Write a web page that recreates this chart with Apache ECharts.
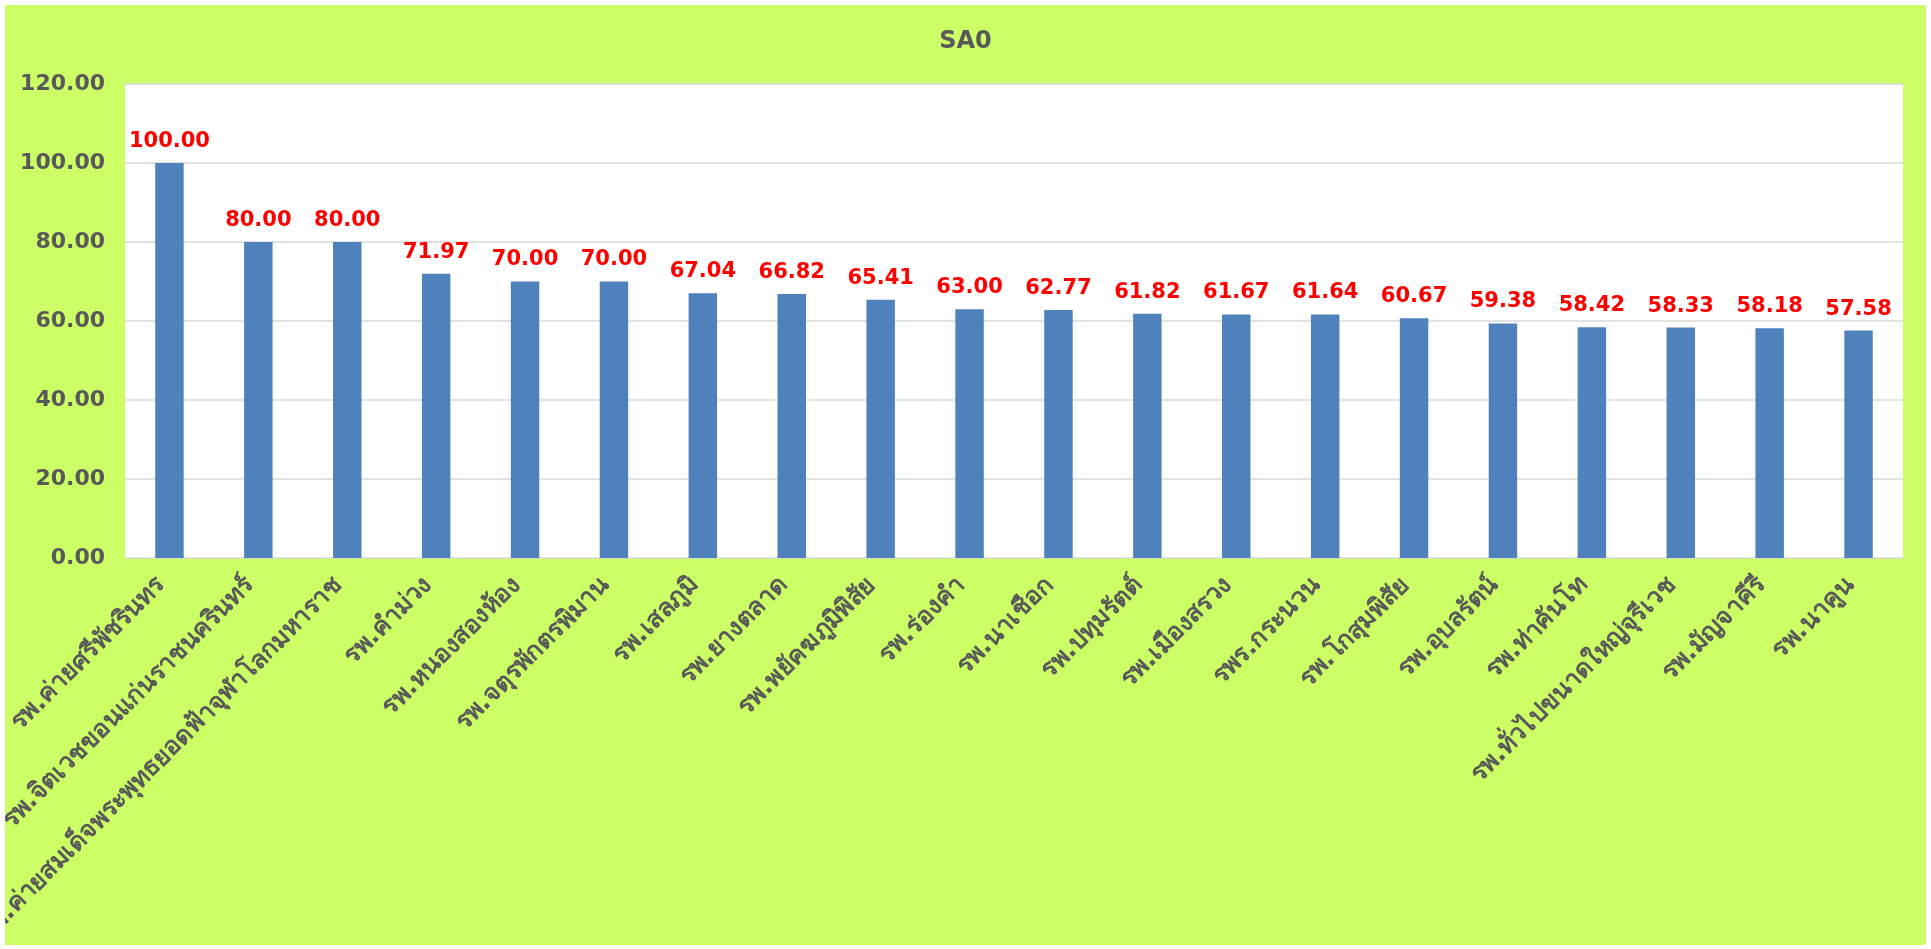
<!DOCTYPE html>
<html><head><meta charset="utf-8">
<script src="https://cdn.jsdelivr.net/npm/echarts@6/dist/echarts.min.js"></script>
<style>
html,body{margin:0;padding:0;background:#fff;width:1931px;height:949px;overflow:hidden}
#c{position:absolute;left:5px;top:5px;width:1921px;height:940px;background:#ccff66}
</style></head><body><div id="c"></div>
<script>
const categories = ["รพ.ค่ายศรีพัชรินทร","รพ.จิตเวชขอนแก่นราชนครินทร์","รพ.ค่ายสมเด็จพระพุทธยอดฟ้าจุฬาโลกมหาราช","รพ.คำม่วง","รพ.หนองสองห้อง","รพ.จตุรพักตรพิมาน","รพ.เสลภูมิ","รพ.ยางตลาด","รพ.พยัคฆภูมิพิสัย","รพ.ร่องคำ","รพ.นาเชือก","รพ.ปทุมรัตต์","รพ.เมืองสรวง","รพร.กระนวน","รพ.โกสุมพิสัย","รพ.อุบลรัตน์","รพ.ท่าคันโท","รพ.ทั่วไปขนาดใหญ่จุรีเวช","รพ.มัญจาคีรี","รพ.นาคูน"];
const values = [100.00,80.00,80.00,71.97,70.00,70.00,67.04,66.82,65.41,63.00,62.77,61.82,61.67,61.64,60.67,59.38,58.42,58.33,58.18,57.58];
const title = "SA0";
const NUMFONT = "'DejaVu Sans', Tahoma, sans-serif";
const THFONT = "Tahoma, 'DejaVu Sans', sans-serif";
const chart = echarts.init(document.getElementById('c'));
chart.setOption({
  backgroundColor: '#ccff66',
  animation: false,
  title: {text: title, left: 'center', top: 20, textStyle: {fontFamily: NUMFONT, fontSize: 24, fontWeight: 'bold', color: '#595959'}},
  grid: {left: 120, right: 23, top: 79, bottom: 387, containLabel: false, outerBoundsMode: 'none', backgroundColor: '#ffffff', show: true, borderWidth: 0},
  xAxis: {
    type: 'category', data: categories,
    axisLine: {show: false}, axisTick: {show: false},
    axisLabel: {rotate: 45, interval: 0, fontFamily: THFONT, fontSize: 25, fontWeight: 'bold', color: '#595959', margin: 15, padding: [0, 12, 0, 0]}
  },
  yAxis: {
    type: 'value', min: 0, max: 120, interval: 20,
    axisLine: {show: false}, axisTick: {show: false},
    splitLine: {lineStyle: {color: '#d9d9d9', width: 1.5}},
    axisLabel: {formatter: v => v.toFixed(2), fontFamily: NUMFONT, fontSize: 22, fontWeight: 'bold', color: '#595959', margin: 20}
  },
  series: [{
    type: 'bar', data: values, barWidth: '32%',
    itemStyle: {color: '#4f81bd'},
    label: {show: true, position: 'top', distance: 11, formatter: p => p.value.toFixed(2), fontFamily: NUMFONT, fontSize: 21, fontWeight: 'bold', color: '#ff0000'}
  }]
});
</script></body></html>
